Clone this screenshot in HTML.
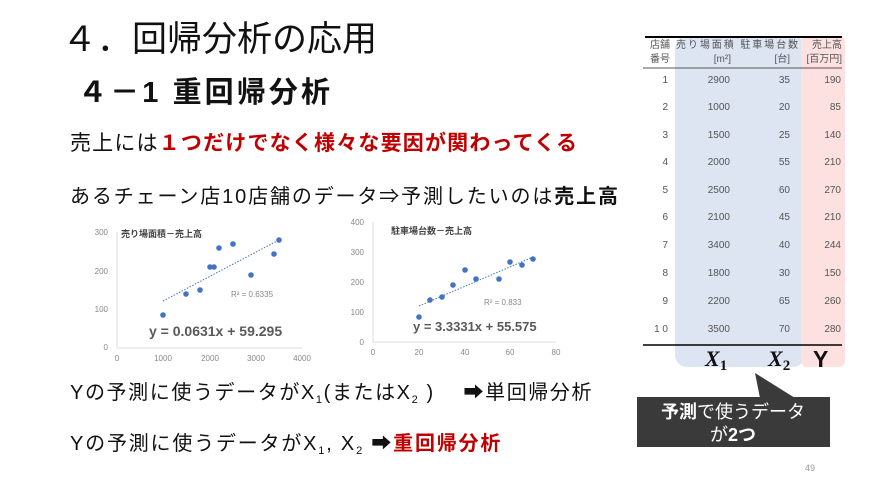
<!DOCTYPE html>
<html><head><meta charset="utf-8"><style>
body{margin:0;width:879px;height:489px;background:#fff;overflow:hidden;font-family:"Liberation Sans","Noto Sans CJK JP",sans-serif}
</style></head><body>
<svg width="879" height="489" xmlns="http://www.w3.org/2000/svg" font-family="Liberation Sans, Noto Sans CJK JP, sans-serif">
<text x="62" y="51" font-size="35" fill="#111" textLength="315" lengthAdjust="spacing">４．回帰分析の応用</text>
<text x="78" y="102" font-size="29" font-weight="bold" fill="#111" textLength="252" lengthAdjust="spacing">４－1 重回帰分析</text>
<text x="70" y="150" font-size="21" fill="#111" textLength="507" lengthAdjust="spacing">売上には<tspan fill="#c00000" font-weight="bold">１つだけでなく様々な要因が関わってくる</tspan></text>
<text x="70" y="203" font-size="20" fill="#111" textLength="548" lengthAdjust="spacing">あるチェーン店10店舗のデータ⇒予測したいのは<tspan font-weight="bold">売上高</tspan></text>
<text x="70" y="399" font-size="20" fill="#111" letter-spacing="1.6">Yの予測に使うデータがX<tspan font-size="11" dy="4">1</tspan><tspan dy="-4">(またはX</tspan><tspan font-size="11" dy="4">2</tspan><tspan dy="-4"> )　 ➡単回帰分析</tspan></text>
<text x="70" y="450" font-size="20" fill="#111" letter-spacing="1.8">Yの予測に使うデータがX<tspan font-size="11" dy="4">1</tspan><tspan dy="-4">, X</tspan><tspan font-size="11" dy="4">2</tspan><tspan dy="-4">  ➡</tspan><tspan fill="#c00000" font-weight="bold">重回帰分析</tspan></text>
<!-- chart1 -->
<g font-size="8" fill="#888">
<line x1="117" y1="232" x2="117" y2="348" stroke="#ddd"/><line x1="117" y1="348" x2="302" y2="348" stroke="#ddd"/>
<text x="108" y="235" text-anchor="end">300</text><text x="108" y="274" text-anchor="end">200</text><text x="108" y="312" text-anchor="end">100</text><text x="108" y="350" text-anchor="end">0</text>
<text x="117" y="361" text-anchor="middle">0</text><text x="163" y="361" text-anchor="middle">1000</text><text x="210" y="361" text-anchor="middle">2000</text><text x="256" y="361" text-anchor="middle">3000</text><text x="302" y="361" text-anchor="middle">4000</text>
<text x="231" y="297">R² = 0.6335</text>
</g>
<text x="121" y="237" font-size="9" font-weight="bold" fill="#444">売り場面積－売上高</text>
<line x1="163" y1="301" x2="279" y2="240" stroke="#4472c4" stroke-dasharray="1.5,1.5"/>
<g fill="#4472c4">
<circle cx="251" cy="275" r="2.8"/><circle cx="163" cy="315" r="2.8"/><circle cx="186" cy="294" r="2.8"/><circle cx="210" cy="267" r="2.8"/><circle cx="233" cy="244" r="2.8"/><circle cx="214" cy="267" r="2.8"/><circle cx="274" cy="254" r="2.8"/><circle cx="200" cy="290" r="2.8"/><circle cx="219" cy="248" r="2.8"/><circle cx="279" cy="240" r="2.8"/>
</g>
<text x="149" y="336" font-size="14" font-weight="bold" fill="#595959">y = 0.0631x + 59.295</text>
<!-- chart2 -->
<g font-size="8" fill="#888">
<line x1="373" y1="222" x2="373" y2="342" stroke="#ddd"/><line x1="373" y1="342" x2="556" y2="342" stroke="#ddd"/>
<text x="364" y="225" text-anchor="end">400</text><text x="364" y="255" text-anchor="end">300</text><text x="364" y="285" text-anchor="end">200</text><text x="364" y="315" text-anchor="end">100</text><text x="364" y="345" text-anchor="end">0</text>
<text x="373" y="355" text-anchor="middle">0</text><text x="419" y="355" text-anchor="middle">20</text><text x="465" y="355" text-anchor="middle">40</text><text x="510" y="355" text-anchor="middle">60</text><text x="556" y="355" text-anchor="middle">80</text>
<text x="484" y="305">R² = 0.833</text>
</g>
<text x="391" y="234" font-size="9" font-weight="bold" fill="#444">駐車場台数－売上高</text>
<line x1="419" y1="306" x2="533" y2="257" stroke="#4472c4" stroke-dasharray="1.5,1.5"/>
<g fill="#4472c4">
<circle cx="453" cy="285" r="2.8"/><circle cx="419" cy="317" r="2.8"/><circle cx="430" cy="300" r="2.8"/><circle cx="499" cy="279" r="2.8"/><circle cx="510" cy="262" r="2.8"/><circle cx="476" cy="279" r="2.8"/><circle cx="465" cy="270" r="2.8"/><circle cx="442" cy="297" r="2.8"/><circle cx="522" cy="265" r="2.8"/><circle cx="533" cy="259" r="2.8"/>
</g>
<text x="413" y="331" font-size="13" font-weight="bold" fill="#595959">y = 3.3331x + 55.575</text>
<!-- table -->
<rect x="675" y="36" width="130" height="331" rx="12" fill="#dde5f3"/>
<rect x="801" y="36" width="44" height="331" rx="6" fill="#fde0e0"/>
<line x1="645" y1="37" x2="842" y2="37" stroke="#000" stroke-width="2"/>
<line x1="643" y1="68" x2="842" y2="68" stroke="#555" stroke-width="1"/>
<line x1="643" y1="345" x2="842" y2="345" stroke="#000" stroke-width="1.5"/>
<g font-size="10" fill="#555">
<text x="670" y="48" text-anchor="end">店舗</text><text x="670" y="62" text-anchor="end">番号</text>
<text x="676" y="48" textLength="122" lengthAdjust="spacing">売り場面積 駐車場台数</text><text x="731" y="62" text-anchor="end">[m²]</text><text x="790" y="62" text-anchor="end">[台]</text>
<text x="842" y="48" text-anchor="end">売上高</text><text x="842" y="62" text-anchor="end">[百万円]</text>
</g>
<g font-size="10" fill="#555" text-anchor="end">
<text x="668" y="83">1</text><text x="730" y="83">2900</text><text x="790" y="83">35</text><text x="841" y="83">190</text>
<text x="668" y="110">2</text><text x="730" y="110">1000</text><text x="790" y="110">20</text><text x="841" y="110">85</text>
<text x="668" y="138">3</text><text x="730" y="138">1500</text><text x="790" y="138">25</text><text x="841" y="138">140</text>
<text x="668" y="165">4</text><text x="730" y="165">2000</text><text x="790" y="165">55</text><text x="841" y="165">210</text>
<text x="668" y="193">5</text><text x="730" y="193">2500</text><text x="790" y="193">60</text><text x="841" y="193">270</text>
<text x="668" y="220">6</text><text x="730" y="220">2100</text><text x="790" y="220">45</text><text x="841" y="220">210</text>
<text x="668" y="248">7</text><text x="730" y="248">3400</text><text x="790" y="248">40</text><text x="841" y="248">244</text>
<text x="668" y="276">8</text><text x="730" y="276">1800</text><text x="790" y="276">30</text><text x="841" y="276">150</text>
<text x="668" y="304">9</text><text x="730" y="304">2200</text><text x="790" y="304">65</text><text x="841" y="304">260</text>
<text x="668" y="332">1 0</text><text x="730" y="332">3500</text><text x="790" y="332">70</text><text x="841" y="332">280</text>
</g>
<text x="705" y="366" font-size="22" font-weight="bold" font-style="italic" font-family="Liberation Serif,serif" fill="#111">X<tspan font-size="15" font-style="normal" dy="4">1</tspan></text>
<text x="768" y="366" font-size="22" font-weight="bold" font-style="italic" font-family="Liberation Serif,serif" fill="#111">X<tspan font-size="15" font-style="normal" dy="4">2</tspan></text>
<text x="813" y="367" font-size="23" font-weight="bold" fill="#111">Y</text>
<!-- callout -->
<polygon points="755,373 760,398 795,398" fill="#3a3a3a"/>
<rect x="637" y="397" width="193" height="50" fill="#3a3a3a"/>
<text x="733" y="418" font-size="18" fill="#fff" text-anchor="middle"><tspan font-weight="bold">予測</tspan>で使うデータ</text>
<text x="733" y="441" font-size="18" fill="#fff" text-anchor="middle">が<tspan font-weight="bold">2つ</tspan></text>
<text x="810" y="471" font-size="9" fill="#999" text-anchor="middle">49</text>
</svg>
</body></html>
